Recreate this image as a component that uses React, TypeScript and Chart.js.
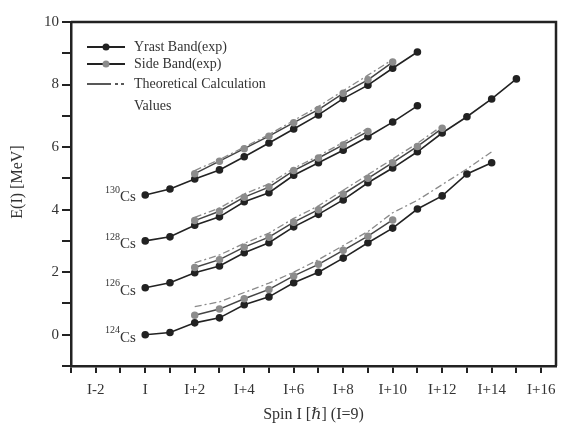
import React, { useEffect, useRef } from "react";
import { Chart, registerables } from "chart.js";

Chart.register(...registerables);

// Spin offsets (relative to I) and energies E(I) [MeV]
const isotopes = ["124", "126", "128", "130"];
const offsets = [0, 1.5, 3.0, 4.5];

const yrastA = [0, 0.07, 0.38, 0.54, 0.96, 1.21, 1.66, 2.0, 2.45, 2.94, 3.41, 4.02, 4.44, 5.14, 5.5];
const sideA = [0.62, 0.82, 1.15, 1.45, 1.88, 2.25, 2.7, 3.15, 3.67];
const theoryA = [0.9, 1.05, 1.35, 1.65, 2.0, 2.4, 2.85, 3.3, 3.9, 4.3, 4.8, 5.3, 5.85];

const yrastB = [1.5, 1.66, 1.98, 2.2, 2.62, 2.94, 3.45, 3.85, 4.31, 4.86, 5.33, 5.85, 6.45, 6.97, 7.54, 8.18];
const sideB = [2.15, 2.4, 2.8, 3.12, 3.6, 4.0, 4.5, 5.0, 5.5, 6.02, 6.6];
const theoryB = [2.3, 2.55, 2.92, 3.25, 3.72, 4.12, 4.62, 5.12, 5.62, 6.12, 6.68];

const yrastC = [3.0, 3.13, 3.5, 3.77, 4.25, 4.54, 5.1, 5.5, 5.9, 6.33, 6.8, 7.32];
const sideC = [3.65, 3.95, 4.4, 4.72, 5.25, 5.65, 6.07, 6.5];
const theoryC = [3.75, 4.05, 4.5, 4.82, 5.32, 5.72, 6.15, 6.6];

const yrastD = [4.47, 4.66, 4.98, 5.27, 5.69, 6.13, 6.58, 7.03, 7.55, 7.98, 8.52, 9.04];
const sideD = [5.15, 5.55, 5.95, 6.35, 6.78, 7.2, 7.72, 8.15, 8.72];
const theoryD = [5.25, 5.6, 6.0, 6.4, 6.85, 7.3, 7.8, 8.3, 8.8];

const yrastStart = 0;
const sideStart = 2;
const theoryStart = 2;

const xTickValues = [-3, -2, -1, 0, 1, 2, 3, 4, 5, 6, 7, 8, 9, 10, 11, 12, 13, 14, 15, 16];

const xTickLabel = (v: number) => {
  if (v % 2 !== 0) return "";
  if (v === 0) return "I";
  if (v < 0) return "I" + v;
  return "I+" + v;
};

const legendItems = ["Yrast Band(exp)", "Side Band(exp)", "Theoretical Calculation", "Values"];
const xTitle = "Spin I [\u210F] (I=9)";
const yTitle = "E(I) [MeV]";

const FONT = "'Liberation Serif', 'DejaVu Serif', serif";
const DARK = "#222";

const toPts = (arr: number[], start: number) => arr.map((y, i) => ({ x: start + i, y }));

export default function App() {
  const ref = useRef<HTMLCanvasElement | null>(null);
  useEffect(() => {
    if (!ref.current) return;
    const groups = [
      [yrastA, sideA, theoryA],
      [yrastB, sideB, theoryB],
      [yrastC, sideC, theoryC],
      [yrastD, sideD, theoryD],
    ];
    const datasets: any[] = [];
    groups.forEach(([y, s, t]) => {
      datasets.push({
        data: toPts(t, theoryStart),
        showLine: true,
        borderColor: "#8a8a8a",
        borderWidth: 1.3,
        borderDash: [7, 3, 2, 3],
        pointRadius: 0,
      });
      datasets.push({
        data: toPts(s, sideStart),
        showLine: true,
        borderColor: "#444",
        borderWidth: 1.5,
        pointRadius: 3,
        pointBackgroundColor: "#8c8c8c",
        pointBorderColor: "#8c8c8c",
      });
      datasets.push({
        data: toPts(y, yrastStart),
        showLine: true,
        borderColor: DARK,
        borderWidth: 1.6,
        pointRadius: 3,
        pointBackgroundColor: DARK,
        pointBorderColor: DARK,
      });
    });

    const decor = {
      id: "decor",
      afterDraw(chart: any) {
        const ctx = chart.ctx;
        const { left, right, top, bottom } = chart.chartArea;
        const xs = chart.scales.x;
        const ys = chart.scales.y;
        ctx.save();
        // frame top and right
        ctx.strokeStyle = DARK;
        ctx.lineWidth = 2.5;
        ctx.beginPath();
        ctx.moveTo(left, top);
        ctx.lineTo(right, top);
        ctx.lineTo(right, bottom);
        ctx.stroke();

        // legend
        const lx0 = 87, lx1 = 125, mx = 106, tx = 134;
        const rows = [47, 64, 84];
        ctx.lineWidth = 2;
        ctx.strokeStyle = DARK;
        ctx.beginPath();
        ctx.moveTo(lx0, rows[0]);
        ctx.lineTo(lx1, rows[0]);
        ctx.moveTo(lx0, rows[1]);
        ctx.lineTo(lx1, rows[1]);
        ctx.stroke();
        ctx.fillStyle = DARK;
        ctx.beginPath();
        ctx.arc(mx, rows[0], 3.5, 0, Math.PI * 2);
        ctx.fill();
        ctx.fillStyle = "#8c8c8c";
        ctx.beginPath();
        ctx.arc(mx, rows[1], 3.5, 0, Math.PI * 2);
        ctx.fill();
        ctx.setLineDash([24, 4, 3, 3, 3, 100]);
        ctx.strokeStyle = DARK;
        ctx.lineWidth = 1.6;
        ctx.beginPath();
        ctx.moveTo(lx0, rows[2]);
        ctx.lineTo(lx1, rows[2]);
        ctx.stroke();
        ctx.setLineDash([]);
        ctx.fillStyle = "#333";
        ctx.font = `14px ${FONT}`;
        ctx.textAlign = "left";
        ctx.textBaseline = "middle";
        ctx.fillText(legendItems[0], tx, rows[0]);
        ctx.fillText(legendItems[1], tx, rows[1]);
        ctx.fillText(legendItems[2], tx, rows[2]);
        ctx.fillText(legendItems[3], tx, rows[2] + 22);

        // isotope labels
        const lxEnd = xs.getPixelForValue(-0.38);
        isotopes.forEach((iso, i) => {
          const py = ys.getPixelForValue(offsets[i]);
          ctx.font = `15px ${FONT}`;
          ctx.textAlign = "right";
          ctx.textBaseline = "middle";
          const cw = ctx.measureText("Cs").width;
          ctx.fillText("Cs", lxEnd, py + 3);
          ctx.font = `10px ${FONT}`;
          ctx.fillText(iso, lxEnd - cw, py - 4);
        });

        // axis titles
        ctx.font = `16px ${FONT}`;
        ctx.textAlign = "center";
        ctx.textBaseline = "middle";
        ctx.fillText(xTitle, (left + right) / 2, 415);
        ctx.translate(18, 182);
        ctx.rotate(-Math.PI / 2);
        ctx.fillText(yTitle, 0, 0);
        ctx.restore();
      },
    };

    const chart = new Chart(ref.current, {
      type: "scatter",
      data: { datasets },
      plugins: [decor],
      options: {
        animation: false,
        responsive: false,
        devicePixelRatio: 1,
        layout: { padding: { left: 0, top: 22, right: 13, bottom: 0 } },
        plugins: { legend: { display: false }, tooltip: { enabled: false } },
        scales: {
          x: {
            type: "linear",
            min: -3,
            max: 16.6,
            afterBuildTicks: (s: any) => {
              s.ticks = xTickValues.map((v) => ({ value: v }));
            },
            afterFit: (s: any) => {
              s.height = 61;
            },
            ticks: {
              autoSkip: false,
              maxRotation: 0,
              padding: 8,
              color: "#333",
              font: { family: FONT, size: 15 },
              callback: (v: any) => xTickLabel(Number(v)),
            },
            grid: { drawOnChartArea: false, tickLength: 7, color: DARK, lineWidth: 2 },
            border: { color: DARK, width: 2.5 },
          },
          y: {
            type: "linear",
            min: -1,
            max: 10,
            afterFit: (s: any) => {
              s.width = 71;
            },
            ticks: {
              stepSize: 1,
              autoSkip: false,
              padding: 3,
              color: "#333",
              font: { family: FONT, size: 15 },
              callback: (v: any) => (Number(v) >= 0 && Number(v) % 2 === 0 ? String(v) : ""),
            },
            grid: { drawOnChartArea: false, tickLength: 9, color: DARK, lineWidth: 2 },
            border: { color: DARK, width: 2.5 },
          },
        },
      },
    });
    return () => chart.destroy();
  }, []);
  return (
    <div style={{ position: "fixed", left: 0, top: 0, width: 569, height: 427, background: "#fff" }}>
      <canvas ref={ref} width={569} height={427} style={{ width: 569, height: 427, display: "block" }} />
    </div>
  );
}
